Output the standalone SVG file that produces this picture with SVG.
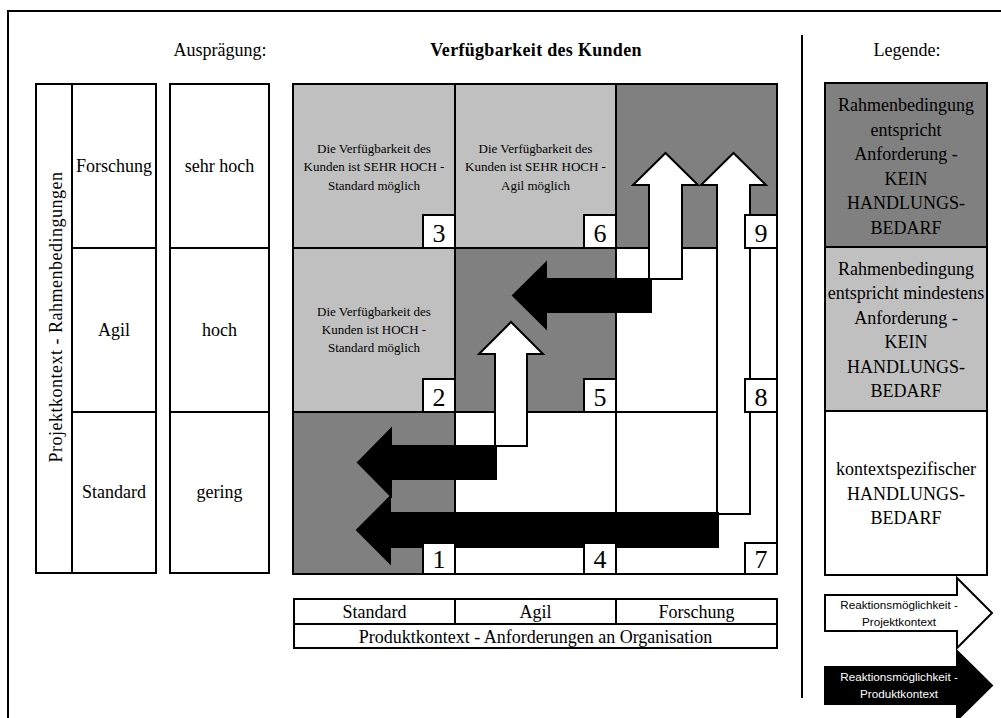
<svg xmlns="http://www.w3.org/2000/svg" width="1001" height="718" viewBox="0 0 1001 718">
  <style>
    .ln { fill: none; stroke: #000; stroke-width: 2; }
    .box { stroke: #000; stroke-width: 2; }
    .w { fill: #fff; }
    .lg { fill: #c0c0c0; }
    .dg { fill: #808080; }
    .t { font-family: "Liberation Serif", "Times New Roman", serif; fill: #000; text-anchor: middle; }
    .t18 { font-size: 18px; }
    .t13 { font-size: 13px; }
    .num { font-size: 26px; }
    .s { font-family: "Liberation Sans", Arial, sans-serif; font-size: 11.7px; text-anchor: middle; }
    .arrW { fill: #fff; stroke: #000; stroke-width: 2; stroke-linejoin: miter; }
    .arrB { fill: #000; stroke: #000; stroke-width: 2; stroke-linejoin: miter; }
  </style>

  <rect width="1001" height="718" fill="#fff"/>

  <!-- page frame and legend separator -->
  <path class="ln" d="M8,718 V11 H1001"/>
  <line class="ln" x1="802" y1="35" x2="802" y2="698"/>

  <!-- headings -->
  <text class="t t18" x="220" y="56">Ausprägung:</text>
  <text class="t t18" x="536" y="56" font-weight="bold" letter-spacing="0.3">Verfügbarkeit des Kunden</text>
  <text class="t t18" x="907" y="56">Legende:</text>

  <!-- project context column -->
  <g id="projektkontext">
    <rect class="box w" x="36" y="84" width="36" height="489"/>
    <text class="t t18" transform="translate(62,317) rotate(-90)" letter-spacing="0.5">Projektkontext - Rahmenbedingungen</text>
  </g>
  <g id="row-forschung">
    <rect class="box w" x="72" y="84" width="84" height="164"/>
    <text class="t t18" x="114" y="172">Forschung</text>
  </g>
  <g id="row-agil">
    <rect class="box w" x="72" y="248" width="84" height="164"/>
    <text class="t t18" x="114" y="336">Agil</text>
  </g>
  <g id="row-standard">
    <rect class="box w" x="72" y="412" width="84" height="161"/>
    <text class="t t18" x="114" y="498">Standard</text>
  </g>

  <!-- availability level column -->
  <g id="level-sehr-hoch">
    <rect class="box w" x="170" y="84" width="99" height="164"/>
    <text class="t t18" x="219.5" y="172">sehr hoch</text>
  </g>
  <g id="level-hoch">
    <rect class="box w" x="170" y="248" width="99" height="164"/>
    <text class="t t18" x="219.5" y="336">hoch</text>
  </g>
  <g id="level-gering">
    <rect class="box w" x="170" y="412" width="99" height="161"/>
    <text class="t t18" x="219.5" y="498">gering</text>
  </g>

  <!-- matrix cells -->
  <g id="cell-3">
    <rect class="box lg" x="293" y="84" width="162" height="164"/>
    <text class="t t13" x="374" y="152.5">Die Verfügbarkeit des</text>
    <text class="t t13" x="374" y="171">Kunden ist SEHR HOCH -</text>
    <text class="t t13" x="374" y="189.5">Standard möglich</text>
  </g>
  <g id="cell-6">
    <rect class="box lg" x="455" y="84" width="161" height="164"/>
    <text class="t t13" x="535.5" y="152.5">Die Verfügbarkeit des</text>
    <text class="t t13" x="535.5" y="171">Kunden ist SEHR HOCH -</text>
    <text class="t t13" x="535.5" y="189.5">Agil möglich</text>
  </g>
  <g id="cell-9">
    <rect class="box dg" x="616" y="84" width="161" height="164"/>
  </g>
  <g id="cell-2">
    <rect class="box lg" x="293" y="248" width="162" height="164"/>
    <text class="t t13" x="374" y="316">Die Verfügbarkeit des</text>
    <text class="t t13" x="374" y="334">Kunden ist HOCH -</text>
    <text class="t t13" x="374" y="352">Standard möglich</text>
  </g>
  <g id="cell-5">
    <rect class="box dg" x="455" y="248" width="161" height="164"/>
  </g>
  <g id="cell-8">
    <rect class="box w" x="616" y="248" width="161" height="164"/>
  </g>
  <g id="cell-1">
    <rect class="box dg" x="293" y="412" width="162" height="162"/>
  </g>
  <g id="cell-4">
    <rect class="box w" x="455" y="412" width="161" height="162"/>
  </g>
  <g id="cell-7">
    <rect class="box w" x="616" y="412" width="161" height="162"/>
  </g>

  <!-- reaction arrows between cells -->
  <g id="connectors">
    <polygon class="arrW" points="495,446 495,354 479,354 511,322 543,354 527,354 527,446"/>
    <polygon class="arrW" points="649,279 649,185 633,185 665.5,153 698,185 682,185 682,279"/>
    <polygon class="arrW" points="717,514 717,185 701,185 733.5,153 766,185 750,185 750,514"/>
    <polygon class="arrB" points="496,446 391,446 391,429 358,462.5 391,496 391,479 496,479"/>
    <polygon class="arrB" points="651,279 546,279 546,263 513,295.5 546,328 546,312 651,312"/>
    <polygon class="arrB" points="718,513 390,513 390,497 357,530 390,563 390,547 718,547"/>
  </g>

  <!-- cell numbers -->
  <g id="numbers">
    <rect class="box w" x="423" y="215" width="32" height="33"/>
    <text class="t num" x="439" y="242">3</text>
    <rect class="box w" x="584" y="215" width="32" height="33"/>
    <text class="t num" x="600" y="242">6</text>
    <rect class="box w" x="745" y="215" width="32" height="33"/>
    <text class="t num" x="761" y="242">9</text>
    <rect class="box w" x="423" y="379" width="32" height="33"/>
    <text class="t num" x="439" y="406">2</text>
    <rect class="box w" x="584" y="379" width="32" height="33"/>
    <text class="t num" x="600" y="406">5</text>
    <rect class="box w" x="745" y="379" width="32" height="33"/>
    <text class="t num" x="761" y="406">8</text>
    <rect class="box w" x="423" y="543" width="32" height="31"/>
    <text class="t num" x="439" y="568">1</text>
    <rect class="box w" x="584" y="543" width="32" height="31"/>
    <text class="t num" x="600" y="568">4</text>
    <rect class="box w" x="745" y="543" width="32" height="31"/>
    <text class="t num" x="761" y="568">7</text>
  </g>

  <!-- product context axis -->
  <g id="produktkontext">
    <rect class="box w" x="294" y="599" width="483" height="49"/>
    <line class="ln" x1="294" y1="624" x2="777" y2="624"/>
    <line class="ln" x1="455" y1="599" x2="455" y2="624"/>
    <line class="ln" x1="616" y1="599" x2="616" y2="624"/>
    <text class="t t18" x="374.5" y="618">Standard</text>
    <text class="t t18" x="535.5" y="618">Agil</text>
    <text class="t t18" x="696.5" y="618">Forschung</text>
    <text class="t t18" x="535.5" y="643">Produktkontext - Anforderungen an Organisation</text>
  </g>

  <!-- legend -->
  <g id="legend-kein-bedarf">
    <rect class="box dg" x="825" y="83" width="162" height="164"/>
    <text class="t t18" x="906" y="111">Rahmenbedingung</text>
    <text class="t t18" x="906" y="135.5">entspricht</text>
    <text class="t t18" x="906" y="160">Anforderung -</text>
    <text class="t t18" x="906" y="184.5">KEIN</text>
    <text class="t t18" x="906" y="209">HANDLUNGS-</text>
    <text class="t t18" x="906" y="233.5">BEDARF</text>
  </g>
  <g id="legend-mindestens">
    <rect class="box lg" x="825" y="247" width="162" height="164"/>
    <text class="t t18" x="906" y="274.5">Rahmenbedingung</text>
    <text class="t t18" x="906" y="299">entspricht mindestens</text>
    <text class="t t18" x="906" y="323.5">Anforderung -</text>
    <text class="t t18" x="906" y="348">KEIN</text>
    <text class="t t18" x="906" y="372.5">HANDLUNGS-</text>
    <text class="t t18" x="906" y="397">BEDARF</text>
  </g>
  <g id="legend-handlungsbedarf">
    <rect class="box w" x="825" y="411" width="162" height="164"/>
    <text class="t t18" x="906" y="475">kontextspezifischer</text>
    <text class="t t18" x="906" y="499.5">HANDLUNGS-</text>
    <text class="t t18" x="906" y="524">BEDARF</text>
  </g>
  <g id="legend-projekt-arrow">
    <polygon class="arrW" points="825,595 957,595 957,578 992,613 957,648 957,631 825,631"/>
    <text class="s" x="899" y="609">Reaktionsmöglichkeit -</text>
    <text class="s" x="899" y="626">Projektkontext</text>
  </g>
  <g id="legend-produkt-arrow">
    <polygon class="arrB" points="825,667 957,667 957,651 992,685.5 957,720 957,704 825,704"/>
    <text class="s" x="899" y="681" fill="#fff">Reaktionsmöglichkeit -</text>
    <text class="s" x="899" y="698" fill="#fff">Produktkontext</text>
  </g>
</svg>
